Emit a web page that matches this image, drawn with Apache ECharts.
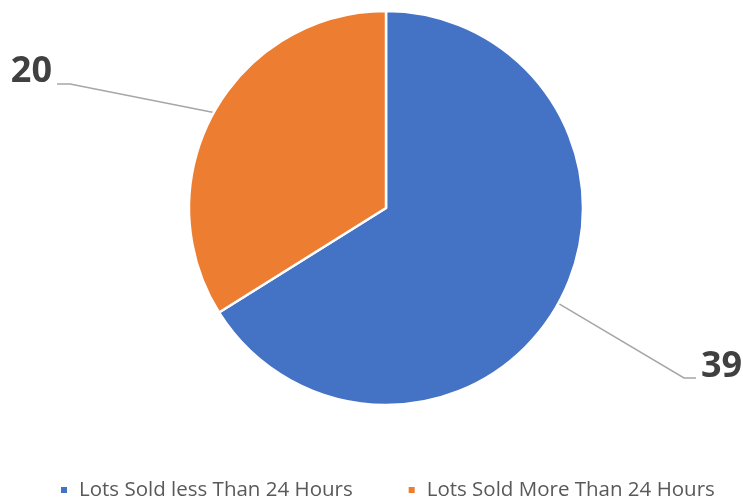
<!DOCTYPE html>
<html>
<head>
<meta charset="utf-8">
<style>
  html, body { margin: 0; padding: 0; background: #ffffff; }
  #chart { width: 743px; height: 502px; }
</style>
<script src="https://cdn.jsdelivr.net/npm/echarts@6/dist/echarts.min.js"></script>
</head>
<body>
<div id="chart"></div>
<script>
// Lots sold, split by time to sale
const categories = ['Lots Sold less Than 24 Hours', 'Lots Sold More Than 24 Hours'];
const lotCounts = [39, 20];
const sliceColors = ['#4472C4', '#ED7D31'];

const chart = echarts.init(document.getElementById('chart'), null, { renderer: 'canvas' });

// Where each value label sits and how its leader line bends before reaching it
const labelSpots = [
  { x: 701, y: 367, align: 'left', elbow: [684, 378], end: [696, 378] },
  { x: 52, y: 72, align: 'right', elbow: [70, 84], end: [57, 84] }
];

chart.setOption({
  animation: false,
  backgroundColor: '#ffffff',
  color: sliceColors,
  legend: {
    left: 59,
    top: 478,
    padding: 0,
    icon: 'rect',
    itemWidth: 8,
    itemHeight: 8,
    itemGap: 54,
    textStyle: {
      fontFamily: 'Open Sans',
      fontSize: 20.5,
      color: '#595959',
      padding: [0, 0, 0, 6],
      lineHeight: 24
    },
    data: categories
  },
  series: [{
    type: 'pie',
    center: [386, 208],
    radius: 197,
    startAngle: 90,
    clockwise: true,
    avoidLabelOverlap: false,
    itemStyle: { borderColor: '#ffffff', borderWidth: 2.5 },
    label: {
      show: true,
      position: 'outside',
      formatter: '{c}',
      fontFamily: 'Open Sans',
      fontWeight: 'bold',
      fontSize: 36,
      color: '#404040'
    },
    labelLine: {
      show: true,
      lineStyle: { color: '#A6A6A6', width: 1.5 }
    },
    labelLayout: function (params) {
      const spot = labelSpots[params.dataIndex];
      const start = params.labelLinePoints ? params.labelLinePoints[0] : spot.elbow;
      return {
        x: spot.x,
        y: spot.y,
        align: spot.align,
        verticalAlign: 'middle',
        labelLinePoints: [start, spot.elbow, spot.end]
      };
    },
    data: categories.map(function (name, i) {
      return { name: name, value: lotCounts[i] };
    })
  }]
});
</script>
</body>
</html>
